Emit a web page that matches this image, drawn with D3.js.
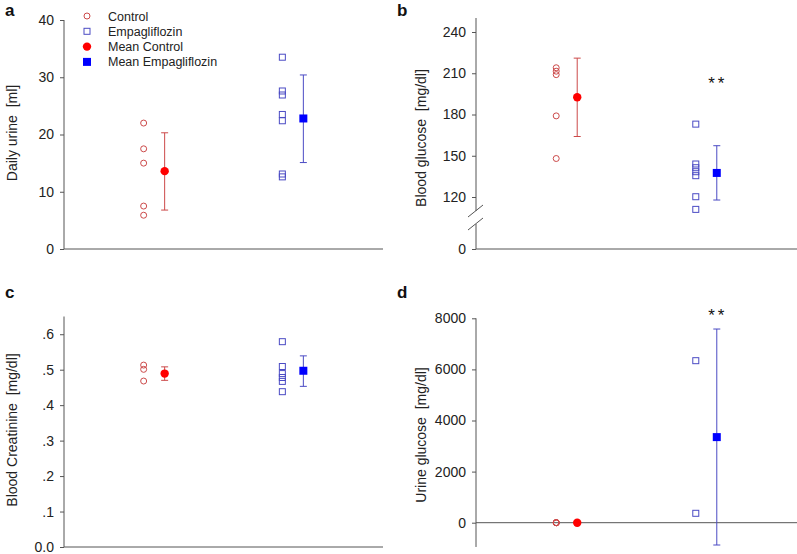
<!DOCTYPE html>
<html><head><meta charset="utf-8">
<script src="https://cdn.jsdelivr.net/npm/d3@7"></script>
<style>body{margin:0;background:#fff}svg{display:block;font-family:Arial,"Liberation Sans",sans-serif}</style>
</head><body>
<svg id="c" width="797" height="554"></svg>
<script>
// ---- data ----
const groups = ["Control", "Empagliflozin"];
const legendLabels = ["Control", "Empagliflozin", "Mean Control", "Mean Empagliflozin"];

const urineCtrl = [22, 17.5, 15, 7.5, 5.9];
const urineEmpa = [33.5, 27.6, 26.9, 23.5, 22.4, 13.1, 12.6];
const urineMean = [13.6, 22.8];
const urineLo = [6.8, 15.1];
const urineHi = [20.3, 30.4];
const urineTicks = [0, 10, 20, 30, 40];

const bgCtrl = [214, 211.5, 209, 179, 148];
const bgEmpa = [173, 144, 141.3, 138.4, 135.5, 120.2, 111];
const bgMean = [192.5, 137.5];
const bgLo = [164, 117.8];
const bgHi = [221, 157.3];
const bgTicks = [0, 120, 150, 180, 210, 240];

const crCtrl = [0.513, 0.501, 0.468];
const crEmpa = [0.579, 0.509, 0.489, 0.478, 0.467, 0.438];
const crMean = [0.489, 0.497];
const crLo = [0.470, 0.453];
const crHi = [0.508, 0.539];
const crTicks = [0, 0.1, 0.2, 0.3, 0.4, 0.5, 0.6];
const crTickLabels = ["0.0", ".1", ".2", ".3", ".4", ".5", ".6"];

const ugCtrl = [0, 0, 0, 0, 0];
const ugEmpa = [6341, 368];
const ugMean = [0, 3350];
const ugLo = [0, -873];
const ugHi = [0, 7580];
const ugTicks = [0, 2000, 4000, 6000, 8000];

const CTRL_STROKE = "#cc4a4a", EMPA_STROKE = "#4b4bc4";
const CTRL_FILL = "#ff0000", EMPA_FILL = "#0000ff";

const svg = d3.select("#c");

function panel(o) {
  const g = svg.append("g");
  const x = d3.scalePoint().domain(groups).range([o.x0, o.x1]).padding(0.65);
  const y = o.y;
  const off = 10.5;
  const ax = g.append("g").attr("transform", `translate(${o.x0},0)`)
    .call(d3.axisLeft(y).tickValues(o.ticks).tickSize(4).tickPadding(6).tickSizeOuter(0)
      .tickFormat((d, i) => o.tickLabels ? o.tickLabels[i] : d));
  ax.select(".domain").remove();
  ax.selectAll(".tick line").attr("stroke", "#555");
  ax.selectAll("text").attr("font-size", 14).attr("fill", "#222").attr("font-family", "Arial, 'Liberation Sans', sans-serif");
  (o.ySegs || [[y.range()[0], y.range()[y.range().length - 1]]]).forEach(s => {
    g.append("line").attr("x1", o.x0).attr("x2", o.x0).attr("y1", s[0]).attr("y2", s[1]).attr("stroke", "#555");
  });
  g.append("line").attr("x1", o.x0).attr("x2", o.x1).attr("y1", y(o.xAxisAt)).attr("y2", y(o.xAxisAt)).attr("stroke", "#555");
  g.append("text").attr("transform", `translate(${o.tx},${o.ty}) rotate(-90)`)
    .attr("text-anchor", "middle").attr("font-size", 14).attr("fill", "#222")
    .style("white-space", "pre").text(o.title);
  g.append("text").attr("x", o.lx).attr("y", o.ly).attr("font-size", 17).attr("font-weight", "bold").attr("fill", "#111").text(o.letter);
  g.selectAll("circle.ind").data(o.ctrl).join("circle")
    .attr("cx", x("Control") - off).attr("cy", d => y(d)).attr("r", 3)
    .attr("fill", "none").attr("stroke", CTRL_STROKE).attr("stroke-width", 1);
  g.selectAll("rect.ind").data(o.empa).join("rect")
    .attr("x", x("Empagliflozin") - off - 3).attr("y", d => y(d) - 3).attr("width", 6).attr("height", 6)
    .attr("fill", "none").attr("stroke", EMPA_STROKE).attr("stroke-width", 1);
  groups.forEach((k, i) => {
    const cx = x(k) + off, col = i === 0 ? CTRL_STROKE : EMPA_STROKE;
    if (o.hi[i] !== o.lo[i]) {
      g.append("line").attr("x1", cx).attr("x2", cx).attr("y1", y(o.lo[i])).attr("y2", y(o.hi[i])).attr("stroke", col);
      [o.lo[i], o.hi[i]].forEach(v => g.append("line").attr("x1", cx - 3.5).attr("x2", cx + 3.5)
        .attr("y1", y(v)).attr("y2", y(v)).attr("stroke", col));
    }
  });
  g.append("circle").attr("cx", x("Control") + off).attr("cy", y(o.mean[0])).attr("r", 4.2).attr("fill", CTRL_FILL);
  g.append("rect").attr("x", x("Empagliflozin") + off - 4).attr("y", y(o.mean[1]) - 4).attr("width", 8).attr("height", 8).attr("fill", EMPA_FILL);
  if (o.star) {
    g.append("text").attr("x", x("Empagliflozin") + off + 1).attr("y", o.star).attr("text-anchor", "middle")
      .attr("font-size", 17).attr("fill", "#111").attr("letter-spacing", 3).text("**");
  }
  return { g, x, y };
}

// a
panel({
  x0: 64, x1: 383, y: d3.scaleLinear().domain([0, 40]).range([249, 20]),
  ticks: urineTicks, xAxisAt: 0, title: "Daily urine  [ml]", tx: 17, ty: 133,
  letter: "a", lx: 5, ly: 16, ctrl: urineCtrl, empa: urineEmpa, mean: urineMean, lo: urineLo, hi: urineHi
});
const lg = svg.append("g");
legendLabels.forEach((t, i) => {
  const yy = 16 + i * 15.3, mx = 87;
  if (i === 0) lg.append("circle").attr("cx", mx).attr("cy", yy).attr("r", 3).attr("fill", "none").attr("stroke", CTRL_STROKE);
  if (i === 1) lg.append("rect").attr("x", mx - 3).attr("y", yy - 3).attr("width", 6).attr("height", 6).attr("fill", "none").attr("stroke", EMPA_STROKE);
  if (i === 2) lg.append("circle").attr("cx", mx).attr("cy", yy).attr("r", 4.2).attr("fill", CTRL_FILL);
  if (i === 3) lg.append("rect").attr("x", mx - 4).attr("y", yy - 4).attr("width", 8).attr("height", 8).attr("fill", EMPA_FILL);
  lg.append("text").attr("x", 108).attr("y", yy + 4.5).attr("font-size", 12.5).attr("fill", "#222").text(t);
});

// b (broken axis)
const yb = d3.scaleLinear().domain([0, 100, 250]).range([249, 224.5, 18.25]);
const pb = panel({
  x0: 476, x1: 797, y: yb, ySegs: [[18, 211], [224, 249]],
  ticks: bgTicks, xAxisAt: 0, title: "Blood glucose  [mg/dl]", tx: 426, ty: 138,
  letter: "b", lx: 397, ly: 16, ctrl: bgCtrl, empa: bgEmpa, mean: bgMean, lo: bgLo, hi: bgHi, star: 89
});
[[217, 205], [230, 218]].forEach(s => pb.g.append("line").attr("x1", 468).attr("x2", 483)
  .attr("y1", s[0]).attr("y2", s[1]).attr("stroke", "#555"));

// c
panel({
  x0: 64, x1: 383, y: d3.scaleLinear().domain([0, 0.65]).range([547, 316.5]),
  ticks: crTicks, tickLabels: crTickLabels, xAxisAt: 0, title: "Blood Creatinine  [mg/dl]", tx: 17, ty: 430,
  letter: "c", lx: 5, ly: 298, ctrl: crCtrl, empa: crEmpa, mean: crMean, lo: crLo, hi: crHi
});

// d
panel({
  x0: 476, x1: 797, y: d3.scaleLinear().domain([-950, 8000]).range([522.7 + 950 * 204.4 / 8000, 318.3]),
  ticks: ugTicks, xAxisAt: 0, title: "Urine glucose  [mg/dl]", tx: 426, ty: 435,
  letter: "d", lx: 397, ly: 298, ctrl: ugCtrl, empa: ugEmpa, mean: ugMean, lo: ugLo, hi: ugHi, star: 321
});
</script>
</body></html>
